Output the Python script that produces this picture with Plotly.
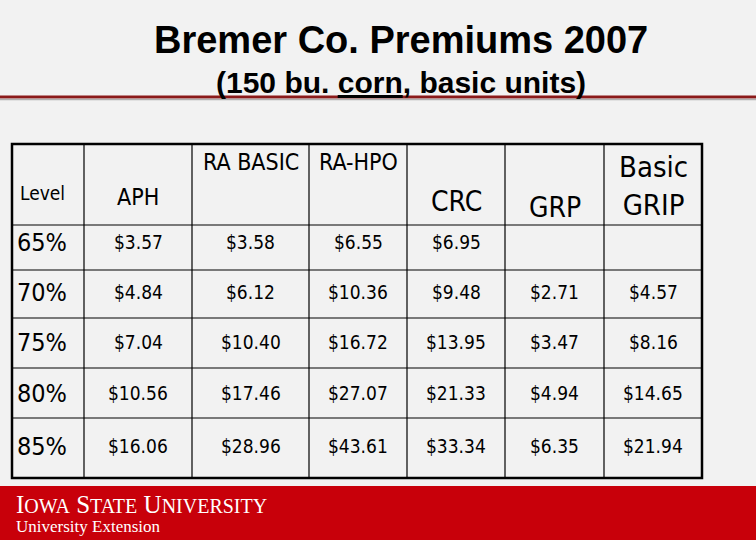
import plotly.graph_objects as go

levels = ["65%", "70%", "75%", "80%", "85%"]
aph = ["$3.57", "$4.84", "$7.04", "$10.56", "$16.06"]
ra_basic = ["$3.58", "$6.12", "$10.40", "$17.46", "$28.96"]
ra_hpo = ["$6.55", "$10.36", "$16.72", "$27.07", "$43.61"]
crc = ["$6.95", "$9.48", "$13.95", "$21.33", "$33.34"]
grp = ["", "$2.71", "$3.47", "$4.94", "$6.35"]
basic_grip = ["", "$4.57", "$8.16", "$14.65", "$21.94"]
columns = [aph, ra_basic, ra_hpo, crc, grp, basic_grip]

col_edges = [12, 84, 192, 309, 407, 505, 604, 702]
row_edges = [144, 225, 270, 318, 368, 418, 478]
font = "DejaVu Sans Condensed"

fig = go.Figure()
shapes = []
ann = []

# title block
ann.append(dict(x=401, y=40, text="<b>Bremer Co. Premiums 2007</b>", showarrow=False,
                font=dict(family="Liberation Sans", size=38, color="black")))
ann.append(dict(x=401, y=82, text="<b>(150 bu. <u>corn</u>, basic units)</b>", showarrow=False,
                font=dict(family="Liberation Sans", size=30, color="black")))
shapes.append(dict(type="line", x0=0, x1=756, y0=97, y1=97, line=dict(color="#8b1a1a", width=3)))
shapes.append(dict(type="line", x0=0, x1=756, y0=99.5, y1=99.5, line=dict(color="#b0b0b0", width=1.5)))

# table grid
shapes.append(dict(type="rect", x0=col_edges[0], x1=col_edges[-1], y0=row_edges[0], y1=row_edges[-1],
                   line=dict(color="black", width=2.5)))
for x in col_edges[1:-1]:
    shapes.append(dict(type="line", x0=x, x1=x, y0=row_edges[0], y1=row_edges[-1], line=dict(color="black", width=1.2)))
for y in row_edges[1:-1]:
    shapes.append(dict(type="line", x0=col_edges[0], x1=col_edges[-1], y0=y, y1=y, line=dict(color="black", width=1.2)))

centers = [(col_edges[i] + col_edges[i + 1]) / 2 for i in range(len(col_edges) - 1)]

# header
headers = [("Level", 193, 19), ("APH", 197, 23), ("RA BASIC", 162, 23), ("RA-HPO", 162, 23),
           ("CRC", 201, 28), ("GRP", 207, 28), ("Basic<br>GRIP", 186, 29)]
for i, (t, y, s) in enumerate(headers):
    if i == 0:
        ann.append(dict(x=18, y=y, text=t, xanchor="left", showarrow=False, font=dict(family=font, size=s, color="black")))
    else:
        ann.append(dict(x=centers[i], y=y, text=t, showarrow=False, font=dict(family=font, size=s, color="black")))

row_y = [242, 292, 342, 393, 446]
for r, lv in enumerate(levels):
    ann.append(dict(x=15, y=row_y[r], text=lv, xanchor="left", showarrow=False,
                    font=dict(family=font, size=25, color="black")))
    for c, col in enumerate(columns):
        ann.append(dict(x=centers[c + 1], y=row_y[r], text=col[r], showarrow=False,
                        font=dict(family=font, size=19, color="black")))

# footer
shapes.append(dict(type="rect", x0=0, x1=756, y0=486, y1=540, line=dict(width=0), fillcolor="#c8000a", layer="below"))
ann.append(dict(x=14, y=504, xanchor="left", showarrow=False,
                text="I<span style='font-size:20px'>OWA</span> S<span style='font-size:20px'>TATE</span> U<span style='font-size:20px'>NIVERSITY</span>",
                font=dict(family="Liberation Serif", size=25, color="white")))
ann.append(dict(x=14, y=526, xanchor="left", showarrow=False, text="University Extension",
                font=dict(family="Liberation Serif", size=17, color="white")))

for a in ann:
    a["xref"] = "x"
    a["yref"] = "y"
for s in shapes:
    s["xref"] = "x"
    s["yref"] = "y"

fig.update_layout(width=756, height=540, margin=dict(l=0, r=0, t=0, b=0),
                  paper_bgcolor="#f2f2f2", plot_bgcolor="#f2f2f2",
                  shapes=shapes, annotations=ann, showlegend=False)
fig.update_xaxes(range=[0, 756], visible=False, fixedrange=True)
fig.update_yaxes(range=[540, 0], visible=False, fixedrange=True)

fig.write_html("out.html", config={"displayModeBar": False},
               post_script="document.body.style.margin='0';document.body.style.overflow='hidden';")
